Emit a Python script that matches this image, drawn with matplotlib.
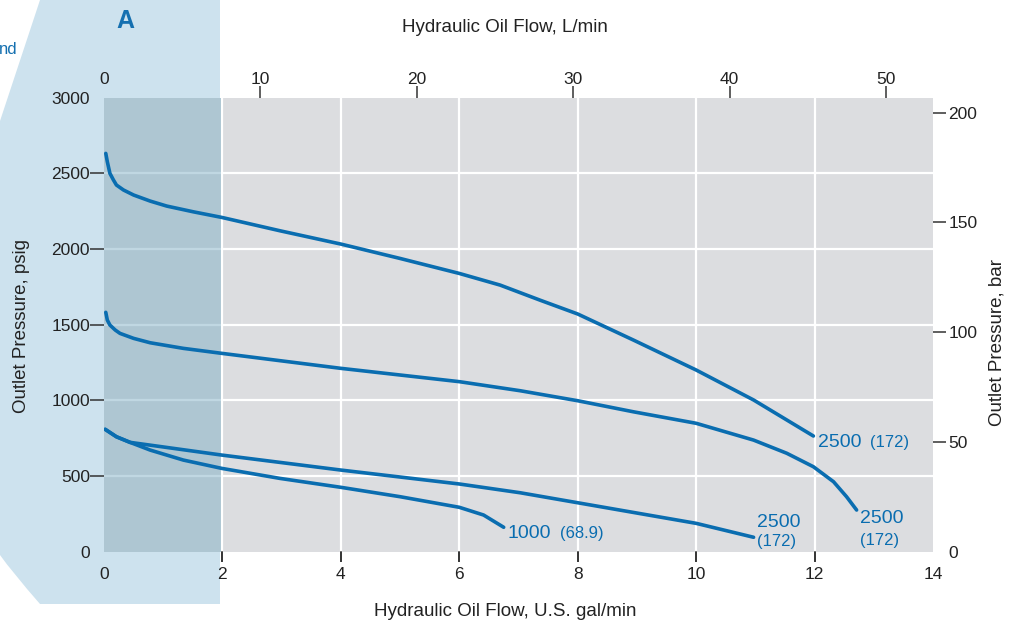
import matplotlib
matplotlib.use("Agg")
from matplotlib import pyplot as plt
from matplotlib.path import Path
from matplotlib.patches import PathPatch

# curves: flow in U.S. gal/min, pressure in psig
top_gpm = [0.03, 0.056, 0.10, 0.16, 0.21, 0.33, 0.50, 0.78, 1.06, 1.51, 1.99, 2.97, 4.0, 5.0,
           6.0, 6.69, 7.36, 8.0, 8.94, 10.0, 10.97, 11.98]
top_psi = [2632, 2577, 2500, 2456, 2423, 2390, 2357, 2317, 2284, 2246, 2209, 2121, 2033, 1938,
           1839, 1762, 1663, 1571, 1399, 1201, 1003, 765]

mid_gpm = [0.03, 0.056, 0.10, 0.19, 0.27, 0.50, 0.78, 1.34, 1.99, 4.0, 6.0, 7.03, 8.0, 8.94,
           10.0, 10.97, 11.53, 11.98, 12.32, 12.54, 12.71]
mid_psi = [1582, 1531, 1498, 1465, 1443, 1410, 1381, 1344, 1311, 1212, 1124, 1064, 998, 925,
           849, 738, 651, 562, 463, 364, 276]

low_gpm = [0.02, 0.21, 0.44, 1.99, 4.0, 6.0, 7.03, 8.0, 10.0, 10.97]
low_psi = [809, 760, 723, 639, 540, 448, 390, 324, 188, 96]

k1000_gpm = [0.02, 0.21, 0.44, 0.78, 1.34, 1.99, 2.97, 4.0, 5.0, 6.0, 6.41, 6.75]
k1000_psi = [809, 760, 723, 672, 606, 551, 485, 426, 364, 294, 243, 162]

x_ticks = [0, 2, 4, 6, 8, 10, 12, 14]
y_ticks = [0, 500, 1000, 1500, 2000, 2500, 3000]
lpm_ticks = [0, 10, 20, 30, 40, 50]
bar_ticks = [0, 50, 100, 150, 200]

blue = '#0a6db0'
W, H = 1018, 632

plt.rcParams['font.family'] = ['Liberation Sans', 'DejaVu Sans']
fig = plt.figure(figsize=(W / 100, H / 100), dpi=100)
fig.patch.set_facecolor('white')

# light blue side panel behind the chart (pixel coords -> figure coords)
def fp(x, y):
    return (x / W, 1 - y / H)

verts = [fp(40, 0), fp(220, 0), fp(220, 604), fp(40, 604), fp(12, 572), fp(0, 555), fp(0, 121), fp(40, 0)]
codes = [Path.MOVETO, Path.LINETO, Path.LINETO, Path.LINETO, Path.CURVE3, Path.CURVE3, Path.LINETO, Path.CLOSEPOLY]
panel = PathPatch(Path(verts, codes), facecolor='#cde2ee', edgecolor='none',
                  transform=fig.transFigure, zorder=-5)
fig.patches.append(panel)

ax = fig.add_axes([104 / W, 1 - 551.8 / H, (933 - 104) / W, (551.8 - 97.7) / H])
ax.set_facecolor('#dcdde0')
ax.set_xlim(0, 14)
ax.set_ylim(0, 3000)
ax.set_autoscale_on(False)
for s in ax.spines.values():
    s.set_visible(False)

for v in x_ticks[1:-1]:
    ax.axvline(v, color='white', lw=1.6, zorder=1)
for v in y_ticks[1:-1]:
    ax.axhline(v, color='white', lw=1.6, zorder=1)
ax.axvspan(0, 1.97, color='#82b1c6', alpha=0.5, lw=0, zorder=1.5)

for xs, ys in [(top_gpm, top_psi), (mid_gpm, mid_psi), (low_gpm, low_psi), (k1000_gpm, k1000_psi)]:
    ax.plot(xs, ys, color=blue, lw=2.6, solid_capstyle='round', solid_joinstyle='round', zorder=3)

# curve labels
ax.text(12.06, 692, '2500', color=blue, fontsize=14, va='baseline')
ax.text(12.93, 692, '(172)', color=blue, fontsize=12, va='baseline')
ax.text(12.77, 190, '2500', color=blue, fontsize=14, va='baseline')
ax.text(12.77, 45, '(172)', color=blue, fontsize=12, va='baseline')
ax.text(11.03, 164, '2500', color=blue, fontsize=14, va='baseline')
ax.text(11.03, 38, '(172)', color=blue, fontsize=12, va='baseline')
ax.text(6.82, 91, '1000', color=blue, fontsize=14, va='baseline')
ax.text(7.70, 91, '(68.9)', color=blue, fontsize=12, va='baseline')

top = ax.secondary_xaxis('top', functions=(lambda g: g * 3.78541, lambda l: l / 3.78541))
top.xaxis.remove_overlapping_locs = False
top.set_xticks(lpm_ticks)
top.set_xticks(lpm_ticks[1:], minor=True)
top.tick_params(which='major', length=0, labelsize=12.5, colors='#222222', pad=8)
top.tick_params(which='minor', length=9, width=1.1, color='#333333', direction='out')
for s in top.spines.values():
    s.set_visible(False)

right = ax.secondary_yaxis('right', functions=(lambda p: p / 14.5038, lambda b: b * 14.5038))
right.yaxis.remove_overlapping_locs = False
right.set_yticks(bar_ticks)
right.set_yticks(bar_ticks[1:], minor=True)
right.tick_params(which='major', length=0, labelsize=12.5, colors='#222222', pad=11)
right.tick_params(which='minor', length=9, width=1.1, color='#333333', direction='out')
for s in right.spines.values():
    s.set_visible(False)

# left / bottom ticks: labels on major, marks on minor
ax.xaxis.remove_overlapping_locs = False
ax.yaxis.remove_overlapping_locs = False
ax.set_xticks(x_ticks)
ax.set_xticks(x_ticks[1:-1], minor=True)
ax.set_yticks(y_ticks)
ax.set_yticks(y_ticks[1:-1], minor=True)
ax.tick_params(which='major', length=0, labelsize=12.5, colors='#222222')
ax.tick_params(axis='x', which='major', pad=11)
ax.tick_params(axis='y', which='major', pad=10)
ax.tick_params(axis='x', which='minor', bottom=True, top=False, length=7, width=1.2,
               color='#333333', direction='out')
ax.tick_params(axis='y', which='minor', left=True, right=False, length=10, width=1.1,
               color='#333333', direction='out')

# the same short marks under the bottom axis, in data units just below zero
for v in x_ticks[1:-1]:
    ax.plot([v, v], [-60, -4], color='#333333', lw=1.2, clip_on=False, zorder=10)

# axis titles
fig.text(*fp(505, 612), 'Hydraulic Oil Flow, U.S. gal/min', fontsize=13.5, ha='center', va='center', color='#222222')
fig.text(*fp(505, 27), 'Hydraulic Oil Flow, L/min', fontsize=13.5, ha='center', va='center', color='#222222')
fig.text(*fp(22, 326), 'Outlet Pressure, psig', fontsize=13.5, ha='center', va='center', rotation=90, color='#222222')
fig.text(*fp(997, 342), 'Outlet Pressure, bar', fontsize=13.5, ha='center', va='center', rotation=90, color='#222222')

fig.text(*fp(125, 21), 'A', fontsize=18, fontweight='bold', ha='center', va='center', color='#1570b0')
fig.text(*fp(-1, 50), 'nd', fontsize=12, ha='left', va='center', color='#1570b0')

fig.savefig('out.png', dpi=100)
